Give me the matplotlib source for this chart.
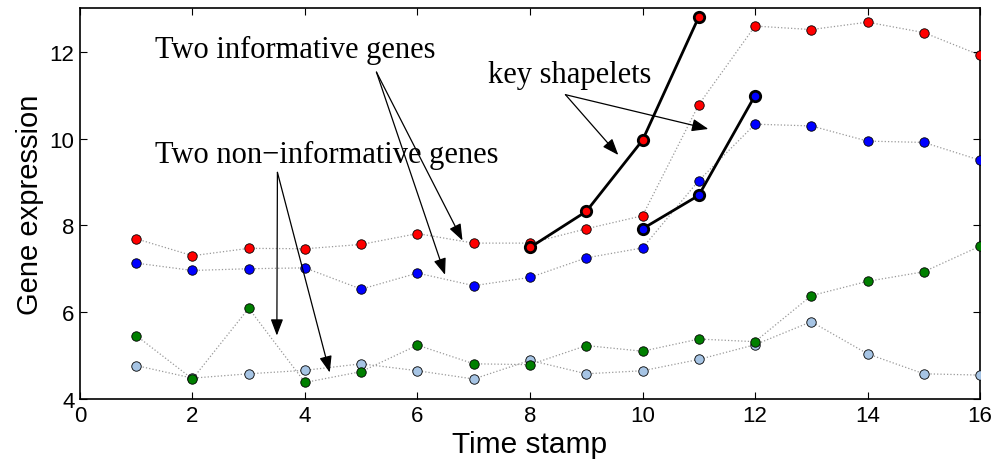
import numpy as np
import matplotlib
matplotlib.use("Agg")
import matplotlib.pyplot as plt

# ── Data ──────────────────────────────────────────────────────────────────────
t = np.arange(1, 17)

red_gene   = [7.69, 7.30, 7.47, 7.46, 7.56, 7.81, 7.59, 7.59,
              7.92, 8.22, 10.78, 12.59, 12.51, 12.68, 12.44, 11.92]
blue_gene  = [7.13, 6.96, 7.00, 7.02, 6.53, 6.90, 6.61, 6.80,
              7.25, 7.48, 9.03, 10.33, 10.29, 9.94, 9.91, 9.50]
green_gene = [5.46, 4.46, 6.09, 4.38, 4.63, 5.24, 4.81, 4.79,
              5.23, 5.10, 5.38, 5.32, 6.38, 6.71, 6.93, 7.52]
light_gene = [4.77, 4.48, 4.58, 4.66, 4.81, 4.65, 4.46, 4.89,
              4.58, 4.65, 4.91, 5.25, 5.78, 5.04, 4.58, 4.55]

shapelet_red_t  = [8, 9, 10, 11]
shapelet_red_y  = [7.49, 8.32, 9.96, 12.80]
shapelet_blue_t = [10, 11, 12]
shapelet_blue_y = [7.92, 8.69, 10.99]

# ── Figure ────────────────────────────────────────────────────────────────────
fig = plt.figure(figsize=(9.97, 4.64), dpi=100)
ax = fig.add_axes([0.0802, 0.138, 0.9028, 0.842])

series = [
    (light_gene, "#a6c4e4"),
    (green_gene, "#007f00"),
    (blue_gene,  "#0000ff"),
    (red_gene,   "#ff0000"),
]
for vals, col in series:
    ax.plot(t, vals, linestyle=":", color="#999999", linewidth=0.9, zorder=1)
    ax.plot(t, vals, linestyle="none", marker="o", markersize=6.8,
            markerfacecolor=col, markeredgecolor="black",
            markeredgewidth=0.6, zorder=3)

# key shapelets
for st, sy, col in [(shapelet_red_t, shapelet_red_y, "#ff0000"),
                    (shapelet_blue_t, shapelet_blue_y, "#0000ff")]:
    ax.plot(st, sy, color="black", linewidth=2.0, zorder=4)
    ax.plot(st, sy, linestyle="none", marker="o", markersize=7.5,
            markerfacecolor=col, markeredgecolor="black",
            markeredgewidth=2.0, zorder=5)

# ── Annotations ───────────────────────────────────────────────────────────────
serif = ["Liberation Serif", "DejaVu Serif"]
arrow = dict(arrowstyle="-|>,head_length=1.0,head_width=0.38",
             color="black", linewidth=0.9, shrinkA=0, shrinkB=0)

ax.text(1.33, 11.87, "Two informative genes", family=serif, fontsize=22,
        va="baseline", ha="left")
for end in [(6.80, 7.65), (6.49, 6.86)]:
    ax.annotate("", xy=end, xytext=(5.27, 11.53), arrowprops=arrow, zorder=6)

ax.text(1.33, 9.45, "Two non\u2212informative genes", family=serif,
        fontsize=22, va="baseline", ha="left")
for end in [(3.50, 5.46), (4.44, 4.61)]:
    ax.annotate("", xy=end, xytext=(3.51, 9.22), arrowprops=arrow, zorder=6)

ax.text(7.26, 11.30, "key shapelets", family=serif, fontsize=22,
        va="baseline", ha="left")
for end in [(9.57, 9.62), (11.17, 10.22)]:
    ax.annotate("", xy=end, xytext=(8.63, 11.01), arrowprops=arrow, zorder=6)

# ── Axes styling ──────────────────────────────────────────────────────────────
ax.set_xlim(0, 16)
ax.set_ylim(4, 13)
ax.set_xticks(range(0, 17, 2))
ax.set_yticks(range(4, 13, 2))
ax.tick_params(direction="in", length=5, width=0.8, top=True, right=True,
               labelsize=16, pad=4)
for lab in ax.get_xticklabels() + ax.get_yticklabels():
    lab.set_family("Liberation Sans")
for sp in ax.spines.values():
    sp.set_linewidth(1.2)

ax.set_xlabel("Time stamp", family="Liberation Sans", fontsize=21.5, labelpad=3)
ax.set_ylabel("Gene expression", family="Liberation Sans", fontsize=21,
              labelpad=4)

fig.savefig("out.png", dpi=100)
